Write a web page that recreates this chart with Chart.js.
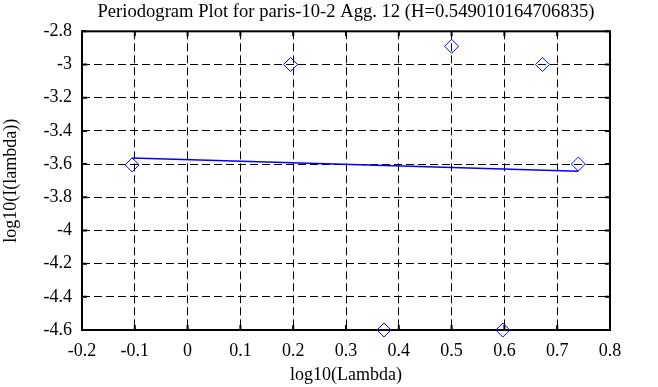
<!DOCTYPE html>
<html>
<head>
<meta charset="utf-8">
<script src="https://cdn.jsdelivr.net/npm/chart.js@4.4.0/dist/chart.umd.min.js"></script>
<style>
html, body { margin: 0; padding: 0; background: #fff; }
</style>
</head>
<body>
<canvas id="myChart" width="658" height="387"></canvas>
<script>
// periodogram points (log10 lambda, log10 I(lambda))
const logLambda = [-0.105, 0.195, 0.372, 0.5, 0.597, 0.672, 0.74];
const logPower = [-3.605, -3.0, -4.6, -2.89, -4.6, -3.0, -3.6];

// least squares fit line end points
const fitX = [-0.105, 0.74];
const fitY = [-3.563, -3.644];

const xTicks = [-0.2, -0.1, 0, 0.1, 0.2, 0.3, 0.4, 0.5, 0.6, 0.7, 0.8];
const yTicks = [-4.6, -4.4, -4.2, -4, -3.8, -3.6, -3.4, -3.2, -3, -2.8];

const titleText = 'Periodogram Plot for paris-10-2 Agg. 12 (H=0.549010164706835)';
const serif = "'Liberation Serif', 'DejaVu Serif', serif";

const ctx = document.getElementById('myChart');

var framePlugin = {
    id: 'frame',
    beforeDatasetsDraw: function(chart) {
        var c = chart.ctx;
        var a = chart.chartArea;
        c.save();
        c.strokeStyle = '#000';
        c.lineWidth = 2;
        c.strokeRect(a.left, a.top, a.right - a.left, a.bottom - a.top);
        c.beginPath();
        xTicks.forEach(function(v) {
            var px = chart.scales.x.getPixelForValue(v);
            c.moveTo(px, a.bottom); c.lineTo(px, a.bottom - 5);
            c.moveTo(px, a.top); c.lineTo(px, a.top + 5);
        });
        yTicks.forEach(function(v) {
            var py = chart.scales.y.getPixelForValue(v);
            c.moveTo(a.left, py); c.lineTo(a.left + 5, py);
            c.moveTo(a.right, py); c.lineTo(a.right - 5, py);
        });
        c.stroke();
        c.restore();
    }
};

var graphData = {
    type: 'scatter',
    data: {
        datasets: [
            {
                label: 'fit',
                type: 'line',
                data: fitX.map(function(x, i) { return {x: x, y: fitY[i]}; }),
                borderColor: '#0000ff',
                borderWidth: 1.5,
                pointRadius: 0,
                fill: false,
            },
            {
                label: 'periodogram',
                data: logLambda.map(function(x, i) { return {x: x, y: logPower[i]}; }),
                pointStyle: 'rectRot',
                pointRadius: 7,
                pointBorderWidth: 1,
                borderColor: '#0000ff',
                backgroundColor: 'rgba(0,0,0,0)',
                showLine: false,
                clip: false,
            },
        ]
    },
    options: {
        responsive: false,
        animation: false,
        layout: { padding: { left: 0, right: 48, top: 0, bottom: 0 } },
        plugins: {
            legend: { display: false },
            tooltip: { enabled: false },
            title: {
                display: true,
                fullSize: false,
                text: titleText,
                color: '#000',
                font: { family: serif, size: 18.6, weight: 'normal' },
                padding: { top: 1, bottom: 8 },
            },
        },
        scales: {
            x: {
                type: 'linear',
                min: -0.2,
                max: 0.8,
                afterBuildTicks: function(s) { s.ticks = xTicks.map(function(v) { return {value: v}; }); },
                afterFit: function(s) { s.height = 57; },
                ticks: {
                    color: '#000',
                    font: { family: serif, size: 18 },
                    padding: 10,
                    maxRotation: 0,
                    callback: function(v) { return String(Number(v.toFixed(1))); },
                },
                grid: { color: '#000', lineWidth: 1, drawTicks: false },
                border: { display: false, dash: [8, 4] },
                title: {
                    display: true,
                    text: 'log10(Lambda)',
                    color: '#000',
                    font: { family: serif, size: 18 },
                    padding: { top: 0, bottom: 1 },
                },
            },
            y: {
                type: 'linear',
                min: -4.6,
                max: -2.8,
                afterBuildTicks: function(s) { s.ticks = yTicks.map(function(v) { return {value: v}; }); },
                afterFit: function(s) { s.width = 82; },
                ticks: {
                    color: '#000',
                    font: { family: serif, size: 18 },
                    padding: 10,
                    callback: function(v) { return String(Number(v.toFixed(1))); },
                },
                grid: { color: '#000', lineWidth: 1, drawTicks: false },
                border: { display: false, dash: [8, 4] },
                title: {
                    display: true,
                    text: 'log10(I(lambda))',
                    color: '#000',
                    font: { family: serif, size: 18 },
                    padding: { top: 0, bottom: 0 },
                },
            },
        }
    },
    plugins: [framePlugin]
};

var myChart = new Chart(ctx, graphData);
</script>
</body>
</html>
